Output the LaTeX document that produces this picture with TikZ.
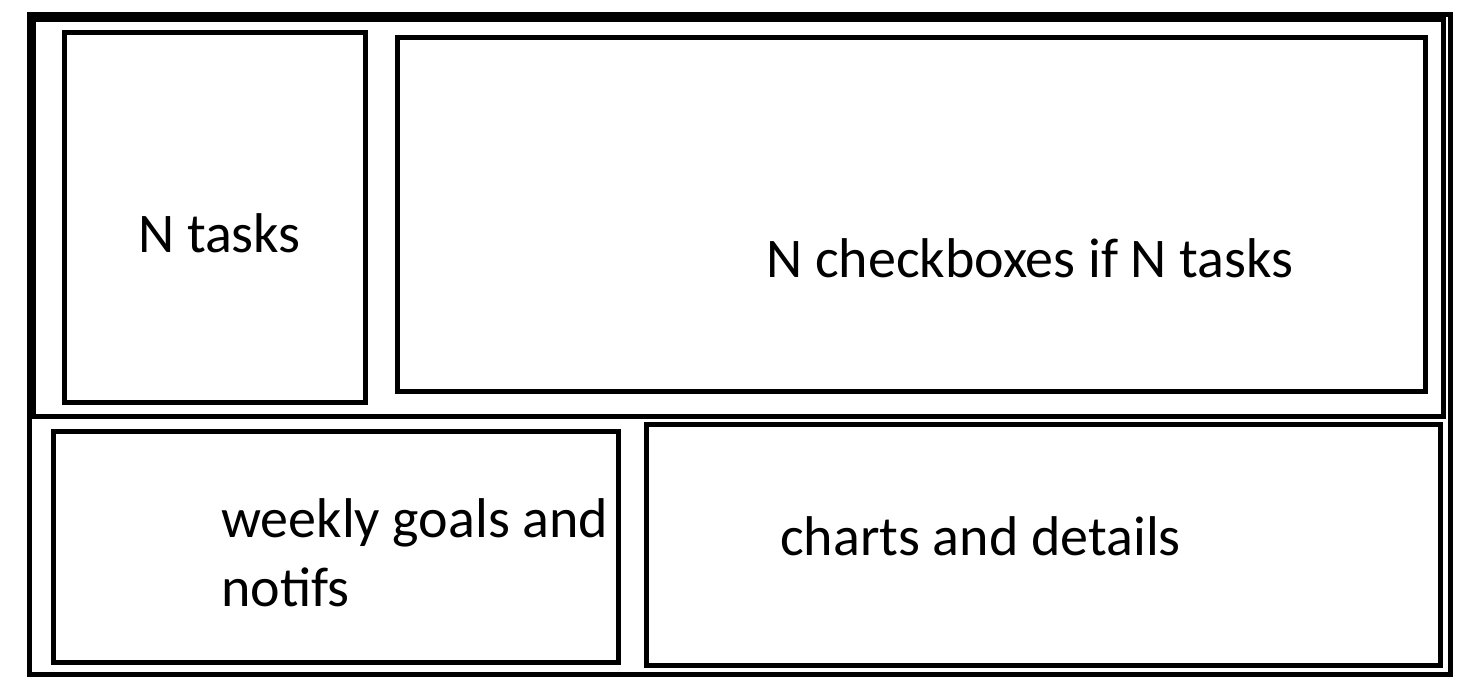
\documentclass[tikz,border=0pt]{standalone}
\usepackage{fontspec}
\setmainfont{Carlito}
\usetikzlibrary{shapes, positioning}
\tikzstyle{frame}=[draw,rectangle,line width=5pt,inner sep=0pt]
\tikzstyle{caption}=[inner sep=0pt,anchor=base west,font=\fontsize{56}{69}\selectfont]

\begin{document}
\begin{tikzpicture}[x=1pt, y=-1pt]
    \useasboundingbox (0, 0) rectangle (1461, 688);

    \node (outer)[frame, minimum width=1421.5pt, minimum height=660pt] at (739.75, 344.5) {};
    \node (top)[frame, minimum width=1410pt, minimum height=397pt] at (738.5, 218) {};

    \node (tasks)[frame, minimum width=300.7pt, minimum height=369.8pt] at (214.9, 217.4) {};
    \node (checks)[frame, minimum width=1028pt, minimum height=354pt] at (911.5, 214.5) {};
    \node (goals)[frame, minimum width=565pt, minimum height=231.5pt] at (336, 546.75) {};
    \node (charts)[frame, minimum width=794.5pt, minimum height=241pt] at (1043.25, 545) {};

    \node (tasksText)[caption] at (138, 252) {N tasks};
    \node (checksText)[caption] at (766, 277) {N checkboxes if N tasks};
    % base of a two-line node is its last line
    \node (goalsText)[caption, align=left] at (221, 606) {weekly goals and\\notifs};
    \node (chartsText)[caption] at (780, 555) {charts and details};
\end{tikzpicture}
\end{document}
